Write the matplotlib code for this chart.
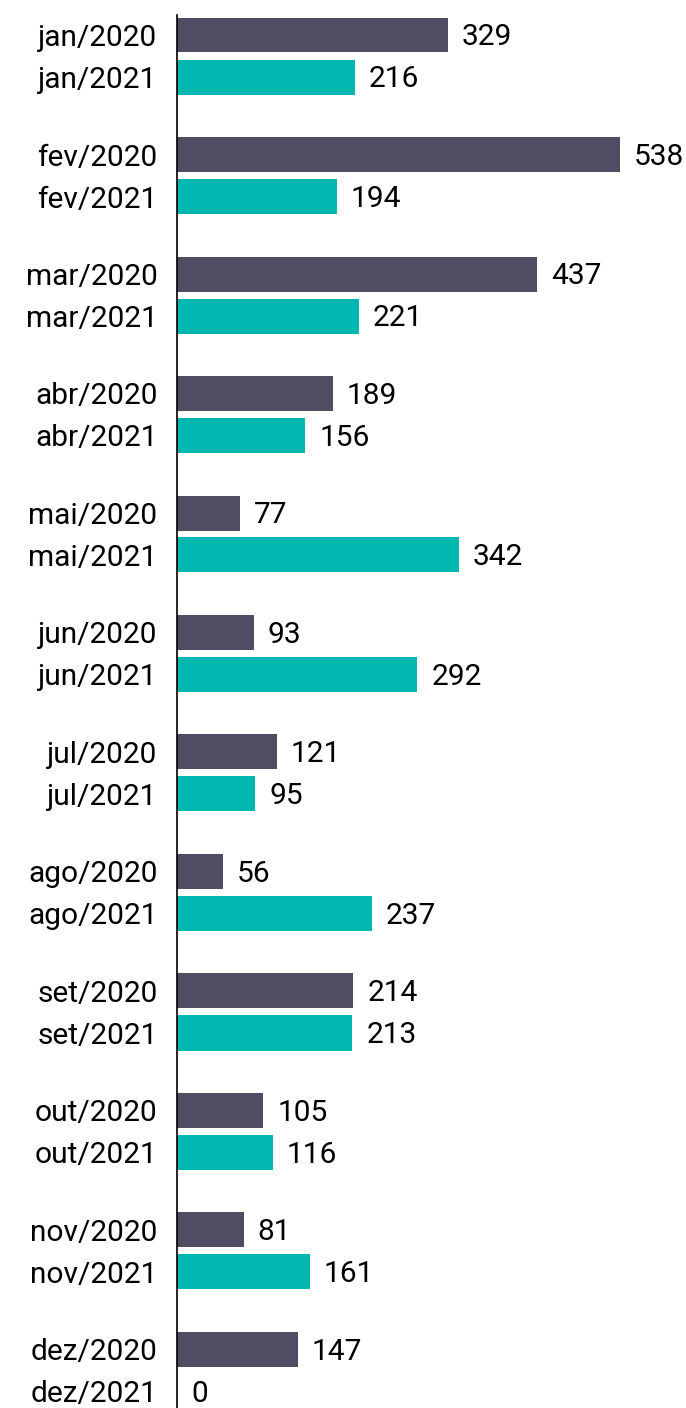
import matplotlib
matplotlib.use("Agg")
from matplotlib import pyplot as plt

meses = ["jan", "fev", "mar", "abr", "mai", "jun",
         "jul", "ago", "set", "out", "nov", "dez"]
v2020 = [329, 538, 437, 189, 77, 93, 121, 56, 214, 105, 81, 147]
v2021 = [216, 194, 221, 156, 342, 292, 95, 237, 213, 116, 161, 0]

cor_2020 = "#4F4C63"
cor_2021 = "#00B8B0"

plt.rcParams['font.family'] = ['Roboto', 'DejaVu Sans']

fig = plt.figure(figsize=(6.86, 14.08), dpi=100)
# axes runs past the bottom edge, the last bar is cut like in the original
ax = fig.add_axes([177 / 686, 1 - 1440 / 1408, 509 / 686, (1440 - 15) / 1408])

h = 35 / 119.5
off = 42 / 119.5

pos = []
labels = []
for i, m in enumerate(meses):
    y1 = i
    y2 = i + off
    ax.barh(y1, v2020[i], height=h, color=cor_2020)
    ax.barh(y2, v2021[i], height=h, color=cor_2021)
    ax.annotate(str(v2020[i]), (v2020[i], y1), xytext=(10, -1.5), textcoords="offset points",
                va="center", ha="left", fontsize=21.5)
    ax.annotate(str(v2021[i]), (v2021[i], y2), xytext=(10, -1.5), textcoords="offset points",
                va="center", ha="left", fontsize=21.5)
    pos += [y1, y2]
    labels += [m + "/2020", m + "/2021"]

ax.set_yticks(pos)
ax.set_yticklabels(labels, fontsize=21.5)
ax.tick_params(axis="y", length=0, pad=14)
ax.set_xticks([])
ax.set_xlim(0, 618)
ax.set_ylim((1440 - 35) / 119.5, -20 / 119.5)
for s in ["top", "right", "bottom"]:
    ax.spines[s].set_visible(False)
ax.spines["left"].set_linewidth(1.2)

plt.savefig("out.png", dpi=100)
